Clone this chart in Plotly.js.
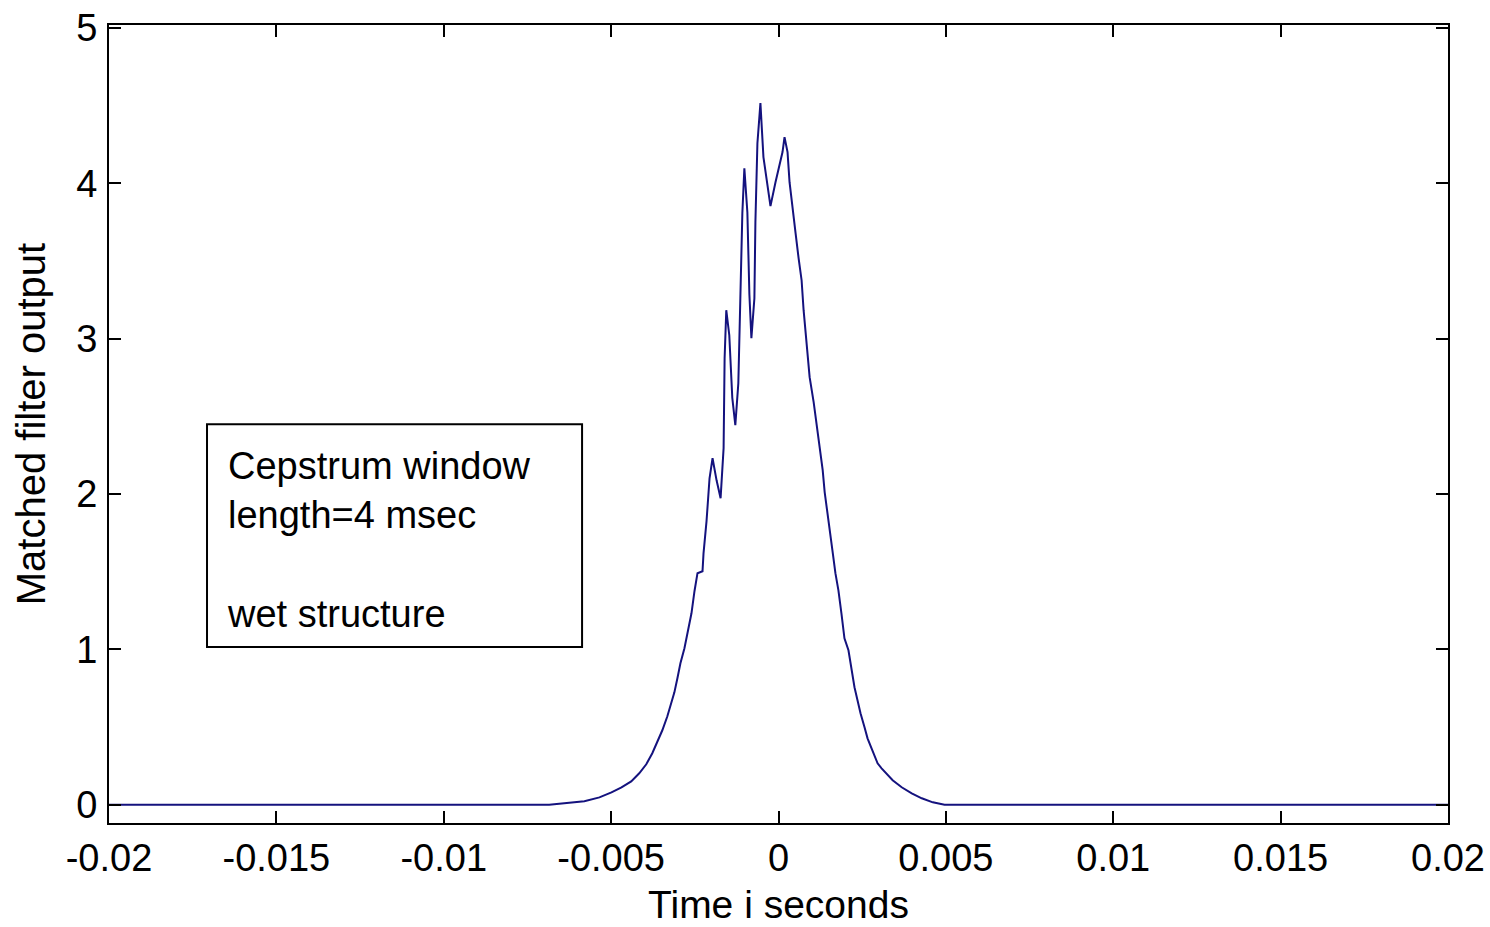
<!DOCTYPE html>
<html>
<head>
<meta charset="utf-8">
<script src="https://cdn.plot.ly/plotly-3.0.1.min.js"></script>
<style>html,body{margin:0;padding:0;background:#fff;}#chart{width:1490px;height:927px;}</style>
</head>
<body>
<div id="chart"></div>
<script>
// Time axis (seconds) and matched filter output values
const timeSec = [
  -0.02, -0.00685, -0.00640, -0.00580, -0.00535, -0.00499, -0.00469, -0.00440, -0.00416, -0.00395,
  -0.00377, -0.00362, -0.00347, -0.00332, -0.00320, -0.00311, -0.00302, -0.00293, -0.00281, -0.00272,
  -0.00260, -0.00251, -0.00242, -0.00227, -0.00224, -0.00215, -0.00206, -0.00197, -0.00185, -0.00173,
  -0.00164, -0.00161, -0.00156, -0.00147, -0.00138, -0.00129, -0.00120, -0.00114, -0.00108, -0.00102,
  -0.00093, -0.00087, -0.00081, -0.00072, -0.00069, -0.00063, -0.00054, -0.00045, -0.00033, -0.00024,
  -0.00009, 0.00000, 0.00012, 0.00018, 0.00027, 0.00033, 0.00042, 0.00051, 0.00060, 0.00069,
  0.00075, 0.00084, 0.00093, 0.00105, 0.00114, 0.00123, 0.00132, 0.00138, 0.00150, 0.00161,
  0.00170, 0.00179, 0.00188, 0.00197, 0.00209, 0.00218, 0.00227, 0.00236, 0.00245, 0.00257,
  0.00266, 0.00278, 0.00287, 0.00296, 0.00308, 0.00323, 0.00341, 0.00368, 0.00398, 0.00428,
  0.00461, 0.00496, 0.02
];
const filterOut = [
  0, 0, 0.010, 0.023, 0.048, 0.080, 0.113, 0.151, 0.203, 0.261,
  0.332, 0.402, 0.480, 0.570, 0.654, 0.724, 0.815, 0.911, 1.008, 1.104,
  1.233, 1.375, 1.491, 1.504, 1.619, 1.826, 2.102, 2.231, 2.089, 1.974,
  2.296, 2.875, 3.184, 3.023, 2.620, 2.444, 2.714, 3.261, 3.809, 4.098,
  3.815, 3.287, 3.004, 3.261, 3.750, 4.259, 4.517, 4.170, 3.970, 3.854,
  4.008, 4.086, 4.202, 4.298, 4.202, 4.008, 3.828, 3.680, 3.519, 3.377,
  3.184, 2.946, 2.753, 2.592, 2.444, 2.296, 2.154, 2.012, 1.832, 1.639,
  1.491, 1.381, 1.233, 1.072, 0.995, 0.879, 0.757, 0.673, 0.589, 0.499,
  0.428, 0.364, 0.319, 0.267, 0.235, 0.203, 0.158, 0.113, 0.074, 0.042,
  0.016, 0, 0
];
const xTickVals = [-0.02, -0.015, -0.01, -0.005, 0, 0.005, 0.01, 0.015, 0.02];
const xTickText = ["-0.02", "-0.015", "-0.01", "-0.005", "0", "0.005", "0.01", "0.015", "0.02"];
const yTickVals = [0, 1, 2, 3, 4, 5];
const yTickText = ["0", "1", "2", "3", "4", "5"];
const noteLines = ["Cepstrum window", "length=4 msec", "", "wet structure"];

const fontFam = "Liberation Sans, Arial, sans-serif";

const trace = {
  x: timeSec,
  y: filterOut,
  type: 'scatter',
  mode: 'lines',
  line: {color: '#14127e', width: 2},
  hoverinfo: 'skip'
};

const layout = {
  width: 1490,
  height: 927,
  paper_bgcolor: '#ffffff',
  plot_bgcolor: '#ffffff',
  margin: {l: 109, r: 42, t: 25, b: 104},
  showlegend: false,
  font: {family: fontFam, size: 38, color: '#000'},
  xaxis: {
    range: [-0.02, 0.02],
    tickmode: 'array',
    tickvals: xTickVals,
    ticktext: xTickText,
    ticks: 'inside',
    ticklen: 12,
    tickwidth: 2,
    tickcolor: '#000',
    showline: true,
    linecolor: '#000',
    linewidth: 2,
    mirror: 'ticks',
    showgrid: false,
    zeroline: false,
    ticklabelstandoff: 0,
    tickfont: {family: fontFam, size: 38, color: '#000'},
    title: {text: 'Time i seconds', font: {family: fontFam, size: 39, color: '#000'}, standoff: 13}
  },
  yaxis: {
    range: [-0.117, 5.02],
    tickmode: 'array',
    tickvals: yTickVals,
    ticktext: yTickText,
    ticks: 'inside',
    ticklen: 12,
    tickwidth: 2,
    tickcolor: '#000',
    showline: true,
    linecolor: '#000',
    linewidth: 2,
    mirror: 'ticks',
    showgrid: false,
    zeroline: false,
    ticklabelstandoff: 2,
    tickfont: {family: fontFam, size: 38, color: '#000'},
    title: {text: 'Matched filter output', font: {family: fontFam, size: 40, color: '#000'}, standoff: 18}
  },
  shapes: [{
    type: 'rect', xref: 'paper', yref: 'paper',
    x0: 0.0732, x1: 0.3533, y0: 0.2204, y1: 0.4998,
    line: {color: '#000', width: 2},
    fillcolor: '#ffffff',
    layer: 'above'
  }],
  annotations: [{
    xref: 'paper', yref: 'paper',
    x: 0.0874, y: 0.4745,
    xanchor: 'left', yanchor: 'top',
    text: noteLines.join('<br>'),
    showarrow: false,
    align: 'left',
    borderpad: 0,
    font: {family: fontFam, size: 38, color: '#000'}
  }]
};

Plotly.newPlot('chart', [trace], layout, {displayModeBar: false, staticPlot: true});
</script>
</body>
</html>
